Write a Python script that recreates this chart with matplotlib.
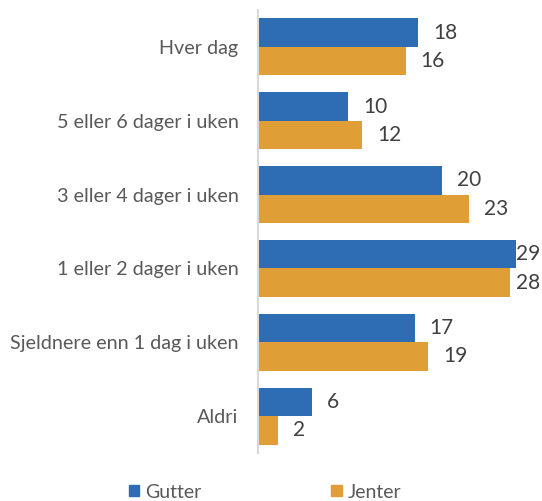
import matplotlib
matplotlib.use("Agg")
import matplotlib.pyplot as plt
import numpy as np
from matplotlib.patches import Patch

categories = ["Hver dag", "5 eller 6 dager i uken", "3 eller 4 dager i uken",
              "1 eller 2 dager i uken", "Sjeldnere enn 1 dag i uken", "Aldri"]
gutter = [17.8, 10.0, 20.4, 28.7, 17.4, 6.0]
jenter = [16.4, 11.6, 23.4, 28.0, 18.9, 2.2]
series_names = ["Gutter", "Jenter"]

blue = "#2E6DB4"
orange = "#E09F36"
txt_val = "#404040"
txt_cat = "#595959"

plt.rcParams['font.family'] = ['Lato', 'DejaVu Sans']

W, H = 542, 501
fig = plt.figure(figsize=(W/100, H/100), dpi=100)
ax = fig.add_axes([258/W, 1-453/H, 270/W, (453-10)/H])

n = len(categories)
y = np.arange(n)
h = 0.386
ax.barh(y - h/2, gutter, height=h, color=blue, label=series_names[0])
ax.barh(y + h/2, jenter, height=h, color=orange, label=series_names[1])

xmax_txt = (540 - 258) / 9.0  # right limit for labels in data units
off = 15 / 9.0
wlab = 2.6
def put(v, yy):
    s = f"{v:.0f}"
    est_w = wlab * len(s) / 2
    if v + off + est_w > xmax_txt:
        ax.text(xmax_txt, yy, s, va='center', ha='right', fontsize=15, color=txt_val, clip_on=False)
    else:
        ax.text(v + off, yy, s, va='center', ha='left', fontsize=15, color=txt_val, clip_on=False)

for yi, g, j in zip(y, gutter, jenter):
    put(g, yi - h/2)
    put(j, yi + h/2)

ax.set_ylim(n - 0.5, -0.5)
ax.set_xlim(0, 30)
ax.set_yticks(y)
ax.set_yticklabels(categories, fontsize=14.2, color=txt_cat)
ax.tick_params(axis='y', length=0, pad=14)
ax.set_xticks([])
for s in ['top', 'right', 'bottom']:
    ax.spines[s].set_visible(False)
ax.spines['left'].set_color('#D9D9D9')
ax.spines['left'].set_linewidth(1.5)

handles = [Patch(color=blue, label=series_names[0]), Patch(color=orange, label=series_names[1])]
leg = fig.legend(handles=handles, loc='center', bbox_to_anchor=(265/W, 1-492/H), ncol=2,
                 frameon=False, fontsize=14, handlelength=0.55, handleheight=0.55,
                 handletextpad=0.3, columnspacing=6.66)
for t in leg.get_texts():
    t.set_color(txt_cat)

fig.savefig("out.png", dpi=100)
